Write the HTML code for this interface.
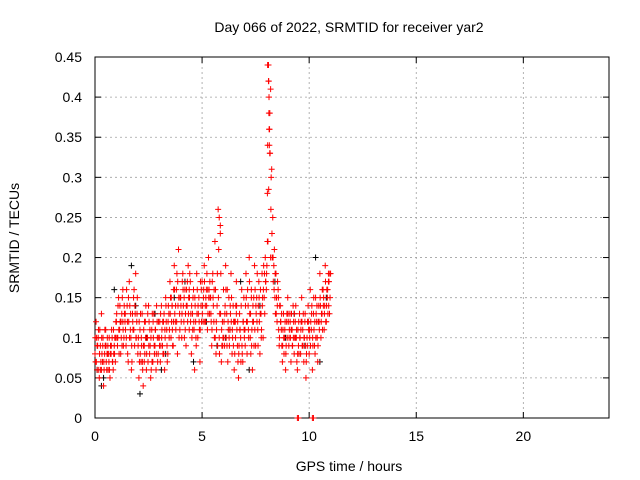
<!DOCTYPE html>
<html><head><meta charset="utf-8"><style>
body{margin:0;background:#fff}
svg{display:block;font-family:"Liberation Sans",sans-serif;font-size:14px}
</style></head><body>
<svg id="chart" width="640" height="480">
<text x="349" y="32" text-anchor="middle">Day 066 of 2022, SRMTID for receiver yar2</text>
<text x="349" y="471" text-anchor="middle">GPS time / hours</text>
<text transform="translate(19,238) rotate(-90)" text-anchor="middle">SRMTID / TECUs</text>
<g id="axes"></g>
<g id="marks"></g>
</svg>
<script>
const xTicks=[0,5,10,15,20];
const yTicks=[0,0.05,0.1,0.15,0.2,0.25,0.3,0.35,0.4,0.45];
const yTickLabels=["0","0.05","0.1","0.15","0.2","0.25","0.3","0.35","0.4","0.45"];
// red series A: one value every 0.05 h from 0
const redValues=[.08,.12,.06,.10,.05,.09,.13,.07,.04,.08,.11,.06,.09,.07,.05,.08,.10,.06,.09,.07,
.12,.09,.15,.11,.08,.13,.16,.10,.12,.09,.14,.07,.17,.11,.06,.13,.15,.09,.18,.12,
.08,.05,.11,.07,.13,.04,.09,.12,.06,.10,.14,.08,.05,.11,.07,.13,.09,.06,.12,.08,
.10,.07,.14,.09,.12,.06,.15,.11,.08,.13,.17,.10,.14,.09,.19,.12,.16,.08,.21,.13,
.15,.10,.18,.12,.16,.09,.14,.19,.11,.17,.08,.13,.16,.06,.12,.18,.10,.15,.07,.14,
.17,.12,.19,.14,.16,.11,.20,.13,.15,.09,.18,.12,.22,.08,.14,.26,.10,.24,.07,.12,
.16,.09,.19,.13,.07,.15,.11,.18,.08,.14,.06,.12,.17,.09,.05,.13,.10,.16,.07,.15,
.11,.18,.08,.14,.20,.10,.16,.06,.12,.19,.09,.15,.11,.17,.08,.13,.18,.10,.15,.20,
.16,.28,.44,.36,.41,.31,.25,.19,.15,.18,.12,.16,.09,.14,.11,.07,.13,.10,.06,.12,
.15,.09,.13,.07,.11,.14,.08,.12,.10,.06,.09,.13,.08,.15,.11,.07,.12,.05,.10,.14,
.08,.16,.11,.06,.13,.09,.15,.12,.07,.14,.18,.10,.13,.16,.11,.19,.12,.15,.18,.13];
// red series B: offset 0.025 h
const redValuesB=[.07,.10,.09,.06,.11,.07,.08,.10,.06,.09,.07,.10,.08,.06,.09,.11,.07,.08,.10,.12,
.10,.14,.08,.12,.10,.15,.09,.13,.11,.16,.08,.12,.14,.10,.07,.11,.16,.13,.10,.15,
.10,.07,.13,.09,.06,.11,.08,.14,.10,.07,.12,.09,.06,.13,.10,.08,.11,.14,.07,.10,
.12,.09,.11,.08,.13,.10,.12,.07,.14,.11,.15,.12,.09,.16,.13,.11,.18,.14,.10,.15,
.12,.17,.14,.10,.13,.16,.12,.15,.18,.13,.10,.15,.11,.14,.09,.16,.13,.11,.17,.12,
.14,.16,.12,.15,.18,.13,.16,.15,.12,.17,.14,.10,.16,.11,.09,.21,.13,.18,.09,.10,
.12,.14,.10,.16,.11,.09,.13,.15,.10,.12,.08,.14,.11,.07,.09,.11,.14,.08,.12,.10,
.14,.12,.16,.10,.13,.08,.11,.14,.09,.16,.13,.18,.14,.12,.16,.11,.15,.19,.13,.17,
.19,.22,.40,.33,.30,.20,.17,.21,.13,.15,.17,.11,.14,.12,.09,.11,.08,.12,.09,.10,
.12,.11,.10,.13,.09,.12,.10,.14,.07,.11,.08,.10,.12,.09,.13,.10,.09,.08,.12,.11,
.10,.12,.14,.09,.11,.08,.13,.10,.12,.11,.14,.13,.11,.15,.14,.12,.16,.13,.17,.15];
// red series C: offset 0.0125 h
const redValuesC=[.10,.07,.09,.11,.08,.06,.10,.09,.07,.11,.09,.08,.06,.10,.08,.09,.07,.11,.08,.10,
.13,.10,.11,.14,.12,.09,.11,.14,.13,.10,.12,.15,.10,.13,.09,.12,.11,.14,.10,.13,
.09,.12,.08,.10,.07,.09,.12,.10,.08,.13,.09,.11,.10,.07,.12,.09,.11,.08,.10,.12,
.09,.13,.10,.12,.08,.11,.14,.09,.12,.10,.13,.15,.11,.12,.16,.14,.12,.17,.15,.11,
.14,.13,.16,.15,.11,.14,.17,.13,.15,.12,.14,.11,.12,.15,.10,.13,.14,.12,.11,.16,
.13,.15,.17,.12,.14,.16,.15,.17,.13,.11,.15,.16,.10,.12,.18,.15,.08,.13,.11,.09,
.10,.13,.16,.09,.12,.10,.14,.12,.11,.09,.12,.10,.14,.12,.08,.11,.07,.09,.12,.11,
.09,.15,.12,.11,.17,.13,.09,.12,.15,.11,.14,.12,.09,.15,.13,.10,.14,.16,.18,.17,
.18,.34,.42,.38,.26,.23,.20,.16,.18,.13,.14,.15,.10,.12,.13,.09,.10,.11,.08,.13,
.13,.10,.12,.11,.09,.10,.13,.10,.11,.08,.12,.10,.11,.12,.09,.10,.13,.07,.09,.12,
.11,.09,.13,.10,.15,.12,.10,.14,.09,.12,.15,.12,.16,.14,.13,.17,.14,.16,.14,.18];
const redExtraTimes=[8.08,8.1,8.12,8.14,8.16,8.05,8.2,5.8,5.85,9.45,9.5,10.15,10.2,0.1,0.3,0.6,1.3,2.3,3.6,4.4,6.6,7.3,10.9,11.0,8.06,8.11,8.13];
const redExtraValues=[.44,.42,.38,.34,.33,.22,.2,.25,.23,0,0,0,0,.09,.06,.08,.12,.07,.14,.16,.13,.15,.17,.18,.44,.285,.36];
const blackTimes=[0.1,0.3,0.5,0.9,1.2,1.7,2.1,2.4,2.8,3.3,3.7,4.2,4.6,5.2,5.7,6.3,6.8,7.2,7.7,8.4,8.9,9.3,9.8,10.3,10.5,10.8,0.4,1.9,3.1,6.1];
const blackValues=[.06,.04,.09,.16,.12,.19,.03,.10,.13,.08,.15,.17,.07,.12,.09,.11,.17,.06,.14,.17,.10,.13,.09,.20,.07,.15,.05,.14,.06,.10];
const X=t=>95+t*(514/24), Y=v=>418-v*(361/0.45);
const ns="http://www.w3.org/2000/svg";
const axes=document.getElementById('axes'), marks=document.getElementById('marks');
function mk(tag,attrs,parent){const e=document.createElementNS(ns,tag);for(const k in attrs)e.setAttribute(k,attrs[k]);parent.appendChild(e);return e;}
yTicks.forEach((v,i)=>{
 const g=mk('line',{x1:95,x2:609,y1:Y(v),y2:Y(v),stroke:'#a0a0a0','stroke-dasharray':'2,3','stroke-width':0.8},axes);
 
 
 const t=mk('text',{x:82,y:Y(v)+5,'text-anchor':'end'},axes);t.textContent=yTickLabels[i];
 
 
 mk('line',{x1:95,x2:101,y1:Y(v),y2:Y(v),stroke:'#000'},axes);
 mk('line',{x1:603,x2:609,y1:Y(v),y2:Y(v),stroke:'#000'},axes);
});
xTicks.forEach(v=>{
 const g=mk('line',{x1:X(v),x2:X(v),y1:57,y2:418,stroke:'#a0a0a0','stroke-dasharray':'2,3','stroke-width':0.8},axes);
 
 
 const t=mk('text',{x:X(v),y:441,'text-anchor':'middle'},axes);t.textContent=v;
 
 
 mk('line',{x1:X(v),x2:X(v),y1:412,y2:418,stroke:'#000'},axes);
 mk('line',{x1:X(v),x2:X(v),y1:57,y2:63,stroke:'#000'},axes);
});
const f=mk('rect',{x:95,y:57,width:514,height:361,fill:'none',stroke:'#000'},axes);


function plus(t,v,c){
 return mk('path',{d:`M${X(t)-3},${Y(v)}h6M${X(t)},${Y(v)-3}v6`,stroke:c,'stroke-width':1},marks);
}
blackTimes.forEach((t,i)=>{const p=plus(t,blackValues[i],'#000');
 
 });
redValues.forEach((v,i)=>{const p=plus(i*0.05,v,'#f00');
 
 });
redValuesB.forEach((v,i)=>{const p=plus(i*0.05+0.025,v,'#f00');
 
 });
redValuesC.forEach((v,i)=>{const p=plus(i*0.05+0.0125,v,'#f00');
 
 });
redExtraTimes.forEach((t,i)=>{const p=plus(t,redExtraValues[i],'#f00');
 
 });
</script>
</body></html>
